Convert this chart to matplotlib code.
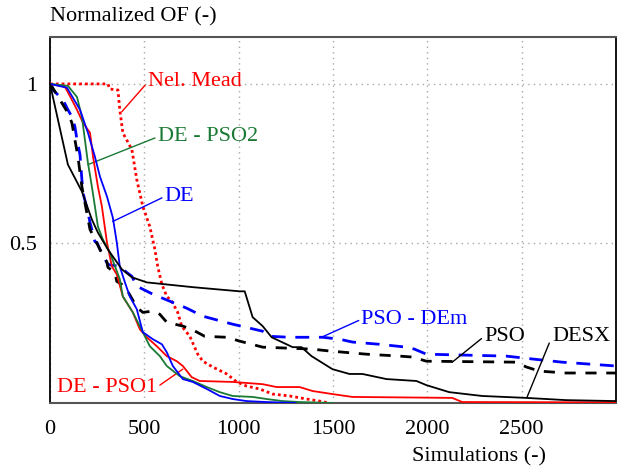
import matplotlib
matplotlib.use("Agg")
import matplotlib.pyplot as plt

plt.rcParams['font.family'] = ['Liberation Serif', 'DejaVu Serif']
plt.rcParams['font.size'] = 16

# DESX (black solid)
desx_x = [0, 95, 169, 222, 254, 307, 381, 434, 513, 757, 1005, 1032, 1074, 1127, 1175, 1286, 1333,
          1386, 1497, 1587, 1656, 1783, 1942, 1995, 2116, 2291, 2524, 2735, 3000]
desx_y = [1.0, 0.747, 0.663, 0.575, 0.534, 0.481, 0.419, 0.394, 0.378, 0.363, 0.350, 0.350, 0.269, 0.241,
          0.206, 0.175, 0.175, 0.147, 0.106, 0.091, 0.091, 0.075, 0.069, 0.056, 0.034, 0.022, 0.016,
          0.009, 0.006]

# PSO (black dashed)
pso_x = [0, 11, 53, 95, 116, 148, 169, 212, 265, 302, 307, 344, 354, 397, 460, 492, 545, 582, 619, 704,
         751, 820, 937, 1005, 1127, 1386, 1481, 1677, 1852, 1921, 1995, 2471, 2524, 2593, 2735, 3000]
pso_y = [1.0, 0.991, 0.95, 0.909, 0.878, 0.772, 0.678, 0.544, 0.481, 0.441, 0.425, 0.409, 0.381, 0.366,
         0.300, 0.284, 0.288, 0.278, 0.253, 0.241, 0.231, 0.209, 0.206, 0.194, 0.175, 0.169, 0.163,
         0.153, 0.147, 0.144, 0.131, 0.128, 0.113, 0.100, 0.094, 0.094]

# PSO - DEm (blue dashed)
psodem_x = [0, 16, 69, 95, 116, 132, 143, 159, 169, 175, 201, 212, 238, 249, 265, 307, 370, 407, 434,
            460, 545, 635, 725, 810, 968, 1127, 1164, 1270, 1445, 1534, 1603, 1746, 1889, 1931, 1995,
            2418, 2556, 2714, 2857, 3000]
psodem_y = [1.0, 0.981, 0.95, 0.919, 0.897, 0.866, 0.825, 0.778, 0.70, 0.659, 0.597, 0.566, 0.506,
            0.503, 0.481, 0.434, 0.428, 0.409, 0.397, 0.366, 0.341, 0.319, 0.297, 0.272, 0.247, 0.225,
            0.209, 0.206, 0.206, 0.200, 0.191, 0.184, 0.175, 0.169, 0.153, 0.147, 0.138, 0.128, 0.122,
            0.116]

# Nelder-Mead (red dotted)
nm_x = [0, 307, 317, 360, 370, 386, 434, 460, 492, 529, 556, 571, 593, 619, 645, 677, 698, 741, 783,
        810, 862, 937, 990, 1042, 1111, 1180, 1270, 1360, 1429, 1480]
nm_y = [1.0, 1.0, 0.984, 0.981, 0.919, 0.847, 0.794, 0.70, 0.616, 0.553, 0.481, 0.428, 0.372, 0.334,
        0.319, 0.284, 0.241, 0.209, 0.153, 0.131, 0.113, 0.091, 0.066, 0.053, 0.044, 0.028, 0.022,
        0.0125, 0.006, 0.0]

# DE - PSO1 (red solid)
dp1_x = [0, 79, 116, 143, 175, 212, 228, 254, 275, 302, 328, 354, 386, 439, 476, 513, 566, 619, 672,
         704, 751, 794, 968, 1127, 1201, 1323, 1392, 1497, 1603, 2132, 2185, 3000]
dp1_y = [1.0, 0.991, 0.95, 0.919, 0.878, 0.847, 0.772, 0.678, 0.616, 0.503, 0.428, 0.403, 0.334, 0.284,
         0.231, 0.206, 0.178, 0.147, 0.131, 0.116, 0.081, 0.069, 0.066, 0.059, 0.05, 0.05, 0.0375,
         0.028, 0.019, 0.016, 0.003, 0.002]

# DE (blue solid)
de_x = [0, 90, 159, 201, 238, 265, 302, 333, 354, 370, 397, 423, 460, 492, 545, 593, 619, 651, 704,
        757, 831, 900, 968, 1042, 1148, 1300]
de_y = [1.0, 0.988, 0.919, 0.847, 0.772, 0.709, 0.647, 0.581, 0.503, 0.428, 0.378, 0.334, 0.294,
        0.222, 0.200, 0.184, 0.159, 0.116, 0.075, 0.066, 0.044, 0.022, 0.0125, 0.006, 0.003, 0.0]

# DE - PSO2 (green solid)
dp2_x = [0, 95, 143, 169, 185, 201, 222, 238, 254, 280, 317, 370, 386, 439, 492, 529, 582, 619, 688,
         757, 831, 900, 968, 1074, 1148, 1233, 1323, 1500]
dp2_y = [1.0, 0.994, 0.959, 0.897, 0.825, 0.753, 0.678, 0.616, 0.553, 0.513, 0.472, 0.388, 0.334,
         0.284, 0.222, 0.178, 0.147, 0.116, 0.084, 0.069, 0.05, 0.034, 0.022, 0.019, 0.0125, 0.006,
         0.003, 0.0]

x_ticks = [0, 500, 1000, 1500, 2000, 2500]
x_ticklabels = ['0', '500', '1000', '1500', '2000', '2500']
y_ticks = [0.5, 1.0]
y_ticklabels = ['0.5', '1']

fig = plt.figure(figsize=(6.2, 4.68), dpi=100)
ax = fig.add_axes([50/620, 65/468, 566/620, 366/468])

RED = '#ff0000'
BLUE = '#0000ff'
GREEN = '#1a7a35'

ax.plot(nm_x, nm_y, color=RED, lw=2.0, linestyle=(0, (1, 1.1)), zorder=3)
ax.plot(dp1_x, dp1_y, color=RED, lw=1.3, zorder=4)
ax.plot(dp2_x, dp2_y, color=GREEN, lw=1.3, zorder=4)
ax.plot(de_x, de_y, color=BLUE, lw=1.3, zorder=4)
ax.plot(psodem_x, psodem_y, color=BLUE, lw=2.0, linestyle=(0, (5, 3.5)), zorder=3)
ax.plot(pso_x, pso_y, color='black', lw=2.0, linestyle=(0, (4, 3.5)), zorder=3)
ax.plot(desx_x, desx_y, color='black', lw=1.3, zorder=4)

ax.set_xlim(0, 3000)
ax.set_ylim(0, 1.147)
ax.set_xticks(x_ticks)
ax.set_xticklabels(x_ticklabels)
ax.set_yticks(y_ticks)
ax.set_yticklabels(y_ticklabels)
ax.tick_params(length=0, pad=9)
ax.tick_params(axis='x', pad=12)
ax.grid(True, color='#a8a8a8', lw=1.0, linestyle=(0, (1, 3)))
for s in ['left', 'right']:
    ax.spines[s].set_color('black')
    ax.spines[s].set_linewidth(1.3)
for s in ['top', 'bottom']:
    ax.spines[s].set_color('#555555')
    ax.spines[s].set_linewidth(1.5)

fig.text(50/620, 1 - 17/468, 'Normalized OF (-)', ha='left', va='center', fontsize=16)
fig.text(546/620, 1 - 457/468, 'Simulations (-)', ha='right', va='center', fontsize=16)

def note(txt, xy, xytext, color):
    ax.annotate(txt, xy=xy, xytext=xytext, color=color, fontsize=16, ha='left', va='center',
                arrowprops=dict(arrowstyle='-', color=color, lw=1.0, shrinkA=0, shrinkB=0,
                                relpos=(0, 0.5)))

note('Nel. Mead', (381, 0.913), (519, 1.006), RED)
note('DE - PSO2', (201, 0.747), (571, 0.834), GREEN)
note('DE', (333, 0.569), (608, 0.647), BLUE)
note('PSO - DEm', (1439, 0.206), (1651, 0.2625), BLUE)
note('PSO', (2132, 0.128), (2302, 0.209), 'black')
note('DESX', (2529, 0.019), (2661, 0.209), 'black')
ax.annotate('DE - PSO1', xy=(704, 0.106), xytext=(37, 0.05), color=RED, fontsize=16,
            ha='left', va='center',
            arrowprops=dict(arrowstyle='-', color=RED, lw=1.0, shrinkA=0, shrinkB=0,
                            relpos=(1, 0.5)))

fig.savefig('out.png', dpi=100)
